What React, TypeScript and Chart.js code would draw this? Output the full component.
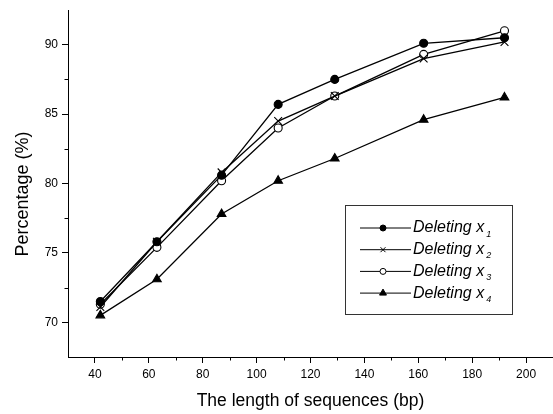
import React, { useEffect, useRef } from "react";
import { Chart, registerables } from "chart.js";

Chart.register(...registerables);

const lengths = [42, 63, 87, 108, 129, 162, 192];
const deletingX1 = [71.5, 75.8, 80.6, 85.7, 87.5, 90.1, 90.5];
const deletingX2 = [71.1, 75.8, 80.8, 84.5, 86.3, 89.0, 90.2];
const deletingX3 = [71.3, 75.4, 80.2, 84.0, 86.3, 89.3, 91.0];
const deletingX4 = [70.5, 73.1, 77.8, 80.2, 81.8, 84.6, 86.2];

const seriesBase = "Deleting x";
const seriesSubs = ["1", "2", "3", "4"];

const xTickValues = [40, 60, 80, 100, 120, 140, 160, 180, 200];
const xMinorValues = [50, 70, 90, 110, 130, 150, 170, 190];
const yTickValues = [70, 75, 80, 85, 90];
const yMinorValues = [72.5, 77.5, 82.5, 87.5];

const xTitle = "The length of sequences (bp)";
const yTitle = "Percentage (%)";

const FONT = "'Liberation Sans', Arial, Helvetica, sans-serif";

type Marker = { style: string; radius: number; fill: string };
const markers: Marker[] = [
  { style: "circle", radius: 4, fill: "#000" },
  { style: "crossRot", radius: 5.5, fill: "#000" },
  { style: "circle", radius: 4, fill: "#fff" },
  { style: "triangle", radius: 5, fill: "#000" },
];
const legendMarkers: Marker[] = [
  { style: "circle", radius: 3, fill: "#000" },
  { style: "crossRot", radius: 3.5, fill: "#000" },
  { style: "circle", radius: 3, fill: "#fff" },
  { style: "triangle", radius: 4, fill: "#000" },
];

function drawMarker(ctx: CanvasRenderingContext2D, m: Marker, x: number, y: number) {
  ctx.save();
  ctx.strokeStyle = "#000";
  ctx.fillStyle = m.fill;
  ctx.lineWidth = 1;
  ctx.beginPath();
  if (m.style === "circle") {
    ctx.arc(x, y, m.radius, 0, Math.PI * 2);
    ctx.fill();
    ctx.stroke();
  } else if (m.style === "crossRot") {
    const r = m.radius * Math.SQRT1_2;
    ctx.moveTo(x - r, y - r);
    ctx.lineTo(x + r, y + r);
    ctx.moveTo(x + r, y - r);
    ctx.lineTo(x - r, y + r);
    ctx.stroke();
  } else if (m.style === "triangle") {
    const r = m.radius;
    ctx.moveTo(x, y - r);
    ctx.lineTo(x + r * Math.sin((2 * Math.PI) / 3), y + r / 2);
    ctx.lineTo(x - r * Math.sin((2 * Math.PI) / 3), y + r / 2);
    ctx.closePath();
    ctx.fill();
    ctx.stroke();
  }
  ctx.restore();
}

const decorPlugin = {
  id: "decor",
  afterDraw(chart: any) {
    const { ctx, chartArea, scales } = chart;
    const xs = scales.x;
    const ys = scales.y;
    ctx.save();
    // minor ticks
    ctx.strokeStyle = "#000";
    ctx.lineWidth = 1;
    ctx.beginPath();
    xMinorValues.forEach((v) => {
      const px = Math.round(xs.getPixelForValue(v)) + 0.5;
      ctx.moveTo(px, chartArea.bottom);
      ctx.lineTo(px, chartArea.bottom + 3.5);
    });
    yMinorValues.forEach((v) => {
      const py = Math.round(ys.getPixelForValue(v)) + 0.5;
      ctx.moveTo(chartArea.left, py);
      ctx.lineTo(chartArea.left - 3.5, py);
    });
    ctx.stroke();

    // axis titles
    ctx.fillStyle = "#000";
    ctx.font = `17.5px ${FONT}`;
    ctx.textAlign = "center";
    ctx.textBaseline = "alphabetic";
    ctx.fillText(xTitle, (chartArea.left + chartArea.right) / 2, chartArea.bottom + 49);
    ctx.save();
    ctx.translate(28, (chartArea.top + chartArea.bottom) / 2 + 10.5);
    ctx.rotate(-Math.PI / 2);
    ctx.font = `18px ${FONT}`;
    ctx.fillText(yTitle, 0, 0);
    ctx.restore();

    // legend
    const bx = chartArea.left + 277;
    const by = chartArea.top + 195;
    const bw = 167;
    const bh = 109;
    ctx.strokeStyle = "#333";
    ctx.lineWidth = 1;
    ctx.strokeRect(bx + 0.5, by + 0.5, bw, bh);
    const rowH = 21.7;
    seriesSubs.forEach((sub, i) => {
      const cy = by + 23 + i * rowH;
      ctx.strokeStyle = "#000";
      ctx.lineWidth = 1;
      ctx.beginPath();
      ctx.moveTo(bx + 15, cy);
      ctx.lineTo(bx + 66, cy);
      ctx.stroke();
      drawMarker(ctx, legendMarkers[i], bx + 38, cy);
      ctx.fillStyle = "#000";
      ctx.font = `italic 16px ${FONT}`;
      ctx.textAlign = "left";
      ctx.textBaseline = "middle";
      ctx.fillText(seriesBase, bx + 68, cy);
      const w = ctx.measureText(seriesBase).width;
      ctx.font = `italic 9px ${FONT}`;
      ctx.fillText(sub, bx + 68 + w + 2, cy + 6);
    });
    ctx.restore();
  },
};

export default function App() {
  const ref = useRef<HTMLCanvasElement | null>(null);
  useEffect(() => {
    document.body.style.margin = "0";
    if (!ref.current) return;
    const series = [deletingX1, deletingX2, deletingX3, deletingX4];
    const datasets = series.map((vals, i) => ({
      label: seriesBase + seriesSubs[i],
      data: lengths.map((x, j) => ({ x, y: vals[j] })),
      borderColor: "#000",
      borderWidth: 1.3,
      backgroundColor: markers[i].fill,
      pointStyle: markers[i].style,
      pointRadius: markers[i].radius,
      pointBorderColor: "#000",
      pointBackgroundColor: markers[i].fill,
      pointBorderWidth: 1.1,
      tension: 0,
      fill: false,
      clip: false,
    }));
    const tickFont = { family: FONT, size: 12 };
    const chart = new Chart(ref.current, {
      type: "line",
      data: { datasets },
      options: {
        animation: false,
        responsive: false,
        events: [],
        layout: { autoPadding: false, padding: { top: 10, right: 0, left: 0, bottom: 0 } },
        plugins: { legend: { display: false }, tooltip: { enabled: false } },
        scales: {
          x: {
            type: "linear",
            min: 30,
            max: 210,
            afterBuildTicks: (s: any) => {
              s.ticks = xTickValues.map((v) => ({ value: v }));
            },
            afterFit: (s: any) => {
              s.height = 57;
              s.paddingRight = 0;
              s.paddingLeft = 0;
            },
            grid: { drawOnChartArea: false, drawTicks: true, tickLength: 6, color: "#000", lineWidth: 1 },
            border: { display: true, color: "#000", width: 1 },
            ticks: { font: tickFont, color: "#000", padding: 4, maxRotation: 0, autoSkip: false },
          },
          y: {
            type: "linear",
            min: 67.5,
            max: 92.5,
            afterBuildTicks: (s: any) => {
              s.ticks = yTickValues.map((v) => ({ value: v }));
            },
            afterFit: (s: any) => {
              s.width = 68;
              s.paddingTop = 0;
              s.paddingBottom = 0;
            },
            grid: { drawOnChartArea: false, drawTicks: true, tickLength: 6, color: "#000", lineWidth: 1 },
            border: { display: true, color: "#000", width: 1 },
            ticks: { font: tickFont, color: "#000", padding: 4, autoSkip: false },
          },
        },
      } as any,
      plugins: [decorPlugin],
    });
    return () => chart.destroy();
  }, []);
  return (
    <div style={{ width: 553, height: 414, background: "#fff" }}>
      <canvas ref={ref} width={553} height={414} />
    </div>
  );
}
